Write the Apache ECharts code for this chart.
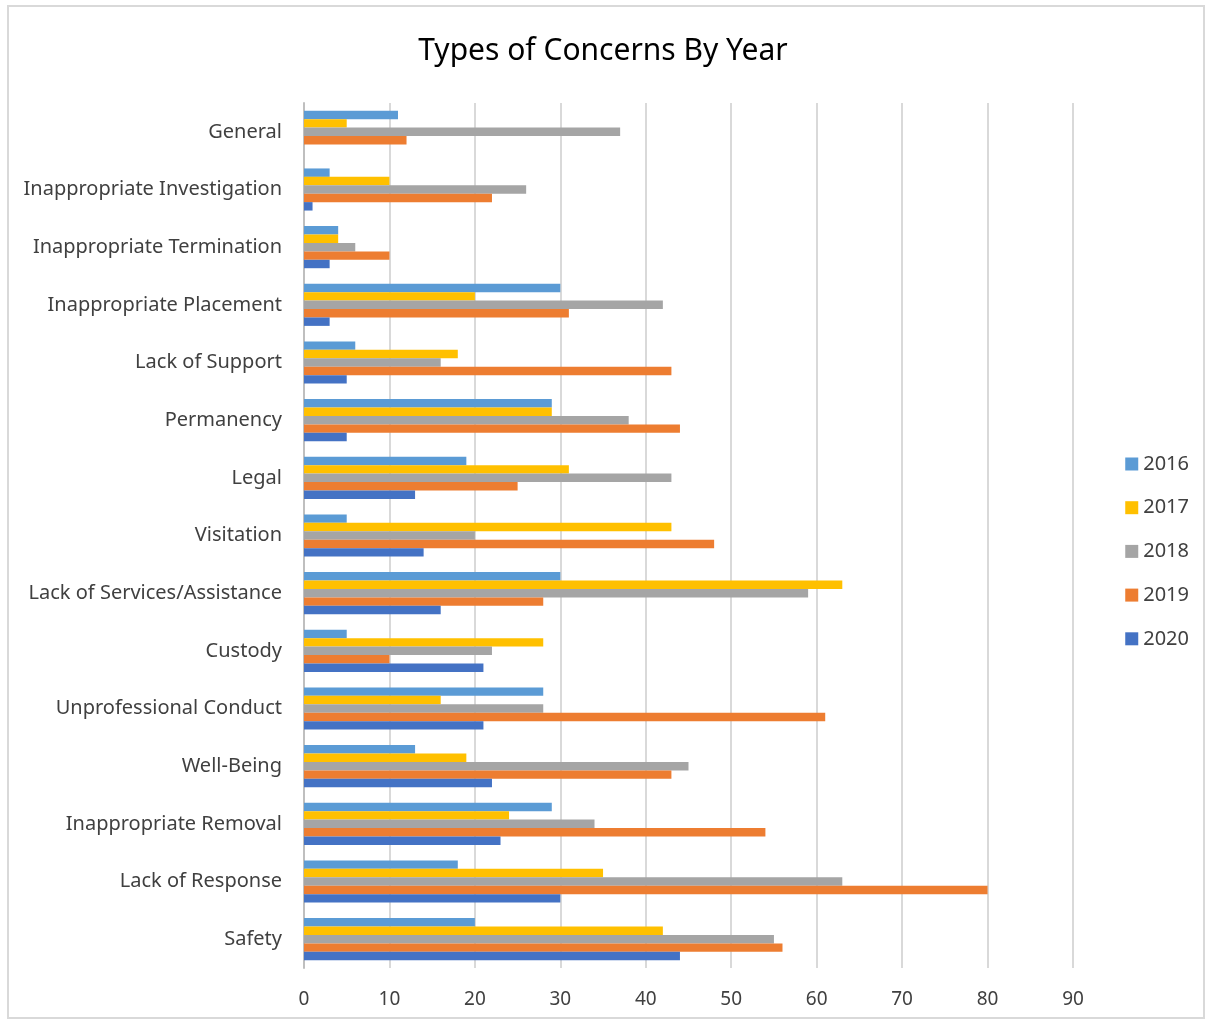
<!DOCTYPE html>
<html><head><meta charset="utf-8">
<script src="https://cdn.jsdelivr.net/npm/echarts@6/dist/echarts.min.js"></script>
<style>html,body{margin:0;padding:0;background:#fff}#c{width:1206px;height:1021px}</style>
</head><body><div id="c"></div>
<script>
var categories = ["General","Inappropriate Investigation","Inappropriate Termination","Inappropriate Placement","Lack of Support","Permanency","Legal","Visitation","Lack of Services/Assistance","Custody","Unprofessional Conduct","Well-Being","Inappropriate Removal","Lack of Response","Safety"];
var years = ["2016","2017","2018","2019","2020"];
var v2016 = [11,3,4,30,6,29,19,5,30,5,28,13,29,18,20];
var v2017 = [5,10,4,20,18,29,31,43,63,28,16,19,24,35,42];
var v2018 = [37,26,6,42,16,38,43,20,59,22,28,45,34,63,55];
var v2019 = [12,22,10,31,43,44,25,48,28,10,61,43,54,80,56];
var v2020 = [0,1,3,3,5,5,13,14,16,21,21,22,23,30,44];
var xTicks = [0,10,20,30,40,50,60,70,80,90];
var colors = ["#5B9BD5","#FFC000","#A5A5A5","#ED7D31","#4472C4"];
var values = [v2016,v2017,v2018,v2019,v2020];
var FONT = "Noto Sans";
var chart = echarts.init(document.getElementById('c'));
chart.setOption({
  animation:false,
  textStyle:{fontFamily:FONT},
  title:{text:"Types of Concerns By Year",left:'center',top:31,textStyle:{fontFamily:FONT,fontSize:30,fontWeight:'normal',color:'#000'}},
  graphic:[{type:'rect',shape:{x:8,y:6,width:1196,height:1012},style:{fill:'none',stroke:'#d9d9d9',lineWidth:2},silent:true}],
  legend:{orient:'vertical',right:12,top:449,itemWidth:13,itemHeight:13,itemGap:23.7,icon:'rect',
    textStyle:{fontFamily:FONT,fontSize:20,color:'#404040'},data:years},
  grid:{left:304,right:133,top:103,bottom:53,containLabel:false},
  xAxis:{type:'value',min:0,max:90,interval:10,
    axisLine:{show:false},axisTick:{show:false},
    axisLabel:{fontFamily:FONT,fontSize:19,color:'#404040',margin:22,
      formatter:function(v){return xTicks.indexOf(v)>=0?String(v):'';}},
    splitLine:{show:true,lineStyle:{color:'#d9d9d9',width:2}}},
  yAxis:{type:'category',inverse:true,data:categories,
    axisLine:{show:true,lineStyle:{color:'#bfbfbf',width:2}},axisTick:{show:false},
    axisLabel:{fontFamily:FONT,fontSize:20,color:'#404040',margin:22}},
  series: years.map(function(y,i){return {name:y,type:'bar',data:values[i],barGap:'0%',barCategoryGap:'27%',
    itemStyle:{color:colors[i]}};})
});
</script></body></html>
